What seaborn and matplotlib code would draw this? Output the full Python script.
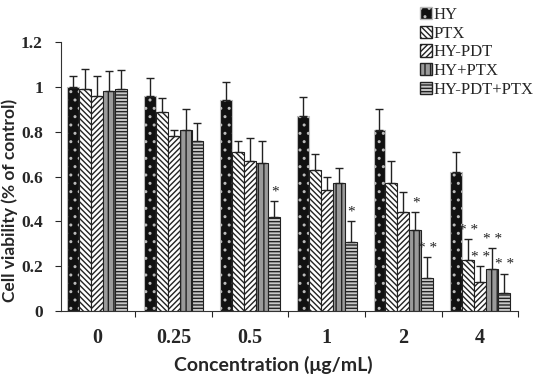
import numpy as np
import pandas as pd
import seaborn as sns
import matplotlib.pyplot as plt
from matplotlib.patches import Patch

# data
concentrations = ['0', '0.25', '0.5', '1', '2', '4']
groups = ['HY', 'PTX', 'HY-PDT', 'HY+PTX', 'HY-PDT+PTX']
hy = [1.00, 0.96, 0.94, 0.87, 0.81, 0.62]
ptx = [0.99, 0.89, 0.71, 0.63, 0.57, 0.23]
hy_pdt = [0.96, 0.78, 0.67, 0.54, 0.44, 0.13]
hy_ptx = [0.98, 0.81, 0.66, 0.57, 0.36, 0.19]
hy_pdt_ptx = [0.99, 0.76, 0.42, 0.31, 0.15, 0.08]
# upper error (sd)
err_hy = [0.05, 0.08, 0.08, 0.085, 0.09, 0.09]
err_ptx = [0.09, 0.06, 0.05, 0.07, 0.10, 0.09]
err_hy_pdt = [0.09, 0.03, 0.10, 0.06, 0.09, 0.07]
err_hy_ptx = [0.09, 0.09, 0.10, 0.07, 0.08, 0.09]
err_hy_pdt_ptx = [0.085, 0.08, 0.07, 0.09, 0.09, 0.085]
# significance marks
sig_hy_ptx = ['', '', '', '', '*', '**']
sig_hy_pdt_ptx = ['', '', '*', '*', '**', '**']
sig_ptx = ['', '', '', '', '', '**']
sig_hy_pdt = ['', '', '', '', '', '**']

series = [hy, ptx, hy_pdt, hy_ptx, hy_pdt_ptx]
errs = [err_hy, err_ptx, err_hy_pdt, err_hy_ptx, err_hy_pdt_ptx]
sigs = [[''] * 6, sig_ptx, sig_hy_pdt, sig_hy_ptx, sig_hy_pdt_ptx]

rows = []
for g, vals in zip(groups, series):
    for c, v in zip(concentrations, vals):
        rows.append({'conc': c, 'group': g, 'val': v})
df = pd.DataFrame(rows)

faces = ['#111111', 'white', 'white', '#9a9a9a', '#c8c8c8']
hatches = ['..', '\\\\\\\\\\\\', '//////', '|||', '-----']
hcols = ['#bbbbbb', '#222222', '#222222', '#333333', '#444444']

sns.set_style('ticks')
plt.rcParams['hatch.linewidth'] = 1.0
fig = plt.figure(figsize=(5.33, 3.79), dpi=100)
ax = fig.add_axes([0.1144, 0.179, 0.858, 0.710])

sns.barplot(data=df, x='conc', y='val', hue='group', hue_order=groups,
            order=concentrations, palette=faces, width=0.78, gap=0,
            errorbar=None, legend=False, ax=ax)

bar_conts = list(ax.containers)
for i, cont in enumerate(bar_conts):
    for j, bar in enumerate(cont):
        bar.set_facecolor(faces[i])
        bar.set_hatch(hatches[i])
        bar.set_edgecolor(hcols[i] if i == 0 else '#222222')
        if hasattr(bar, 'set_hatchcolor'):
            bar.set_hatchcolor(hcols[i])
            bar.set_edgecolor('#111111')
        bar.set_linewidth(0.8)
        xc = bar.get_x() + bar.get_width() / 2
        top = bar.get_height()
        ax.errorbar(xc, top, yerr=[[0], [errs[i][j]]], fmt='none',
                    ecolor='#222222', elinewidth=1.0, capsize=3, capthick=1.0)
        if sigs[i][j]:
            ax.text(xc + 0.01, top + errs[i][j] + 0.012, sigs[i][j].replace('**', '* *'),
                    ha='center', va='bottom', fontsize=11,
                    family='Liberation Serif', color='#222222')

ax.set_ylim(0, 1.2)
ax.set_xlim(-0.47, 5.5)
ax.set_yticks([0, 0.2, 0.4, 0.6, 0.8, 1.0, 1.2])
ax.set_yticklabels(['0', '0.2', '0.4', '0.6', '0.8', '1', '1.2'],
                   family='Liberation Serif', fontweight='bold', fontsize=12.5)
ax.set_xticks(range(6))
ax.set_xticklabels(concentrations, family='Liberation Serif',
                   fontweight='bold', fontsize=14.5)
ax.set_xticks(np.arange(0.5, 6, 1), minor=True)
ax.tick_params(axis='x', which='major', length=0, pad=12)
ax.tick_params(axis='x', which='minor', length=4, width=0.8, direction='out')
ax.tick_params(axis='y', length=4, width=0.8, pad=9)
ax.tick_params(axis='y', which='minor', length=0)
sns.despine(ax=ax)
for s in ['left', 'bottom']:
    ax.spines[s].set_linewidth(0.8)
    ax.spines[s].set_color('#333333')

ax.set_xlabel('Concentration (μg/mL)', fontsize=14, fontweight='bold',
              family='Lato')
ax.xaxis.set_label_coords(0.464, -0.168)
ax.set_ylabel('Cell viability (% of control)', fontsize=12.5, fontweight='bold',
              family='Lato')
ax.yaxis.set_label_coords(-0.093, 0.41)

handles = [Patch(facecolor=faces[i], hatch=hatches[i],
                 edgecolor=hcols[i] if i == 0 else '#222222', label=groups[i])
           for i in range(5)]
fig.legend(handles=handles, loc='upper left', bbox_to_anchor=(0.775, 1.0),
           frameon=False, prop={'family': 'Liberation Serif', 'size': 12},
           handlelength=0.75, handleheight=0.75, handletextpad=0.1,
           labelspacing=0.17, borderaxespad=0)

fig.savefig('out.png', dpi=100)
